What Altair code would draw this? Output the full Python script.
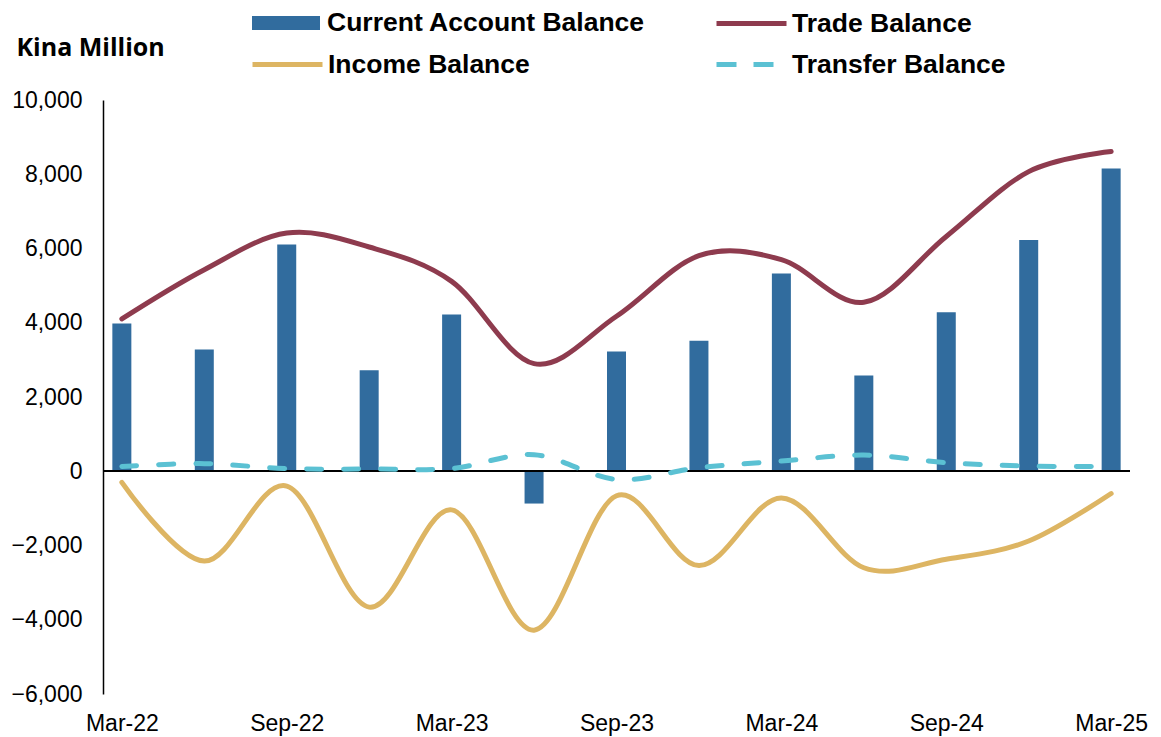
import json
import altair as alt
import pandas as pd

quarters = ["Mar-22", "Jun-22", "Sep-22", "Dec-22", "Mar-23", "Jun-23", "Sep-23",
            "Dec-23", "Mar-24", "Jun-24", "Sep-24", "Dec-24", "Mar-25"]
current_account = [3980, 3280, 6110, 2720, 4220, -870, 3225, 3515, 5325, 2580, 4285, 6230, 8155]
trade_balance = [4105, 5430, 6415, 6040, 5115, 2900, 4175, 5805, 5700, 4550, 6325, 8070, 8610]
income_balance = [-300, -2420, -400, -3660, -1040, -4280, -660, -2540, -720, -2600, -2370, -1880, -600]
transfer_balance = [130, 205, 70, 60, 75, 445, -220, 95, 275, 435, 230, 140, 125]
y_ticks = [-6000, -4000, -2000, 0, 2000, 4000, 6000, 8000, 10000]

BLUE = "#316C9E"
TRADE = "#8E3B4E"
INCOME = "#DDB563"
TRANSFER = "#5BC1D3"
FONT = "Liberation Sans"

df = pd.DataFrame({
    "idx": list(range(len(quarters))),
    "quarter": quarters,
    "current": current_account,
    "trade": trade_balance,
    "income": income_balance,
    "transfer": transfer_balance,
})

shown = quarters[::2]
label_expr = json.dumps(shown) + "[round(datum.value / 2)]"

x_enc = alt.X(
    "idx:Q",
    scale=alt.Scale(domain=[-0.168, 12.168], nice=False, zero=False),
    axis=alt.Axis(values=list(range(0, 13, 2)), labelExpr=label_expr, grid=False,
                  domain=False, ticks=False, labelFont=FONT, labelFontSize=23,
                  labelColor="black", labelPadding=18, title=None),
)
y_scale = alt.Scale(domain=[-6000, 10000], nice=False, zero=False)


def legend(x, y, sym, size, offset, **kw):
    return alt.Legend(title=None, orient="none", legendX=x, legendY=y,
                      symbolType=sym, symbolSize=size, labelFont=FONT,
                      labelFontSize=26.5, labelFontWeight="bold", labelColor="black",
                      labelOffset=offset, labelLimit=500, padding=0, **kw)


bars = alt.Chart(df).mark_bar(size=19).transform_calculate(
    s="'Current Account Balance'"
).encode(
    x=x_enc,
    y=alt.Y("current:Q", scale=y_scale,
            axis=alt.Axis(values=y_ticks, format=",.0f", grid=False, ticks=False,
                          domainColor="black", domainWidth=1.5, labelFont=FONT,
                          labelFontSize=23, labelColor="black", labelPadding=21,
                          title="Kina Million", titleAngle=0, titleAlign="left",
                          titleBaseline="middle", titleX=-87, titleY=-53,
                          titleFont="Open Sans", titleFontSize=25,
                          titleFontWeight="bold", titleColor="black")),
    color=alt.Color("s:N", scale=alt.Scale(domain=["Current Account Balance"], range=[BLUE]),
                    legend=legend(149, -111, "M-1,-0.206H1V0.206H-1Z", 4624, 7,
                                  symbolStrokeWidth=0)),
)

zero = alt.Chart(df).mark_rule(color="black", strokeWidth=1.5).encode(y=alt.datum(0))


def line(field, name, col, lx, ly, dash=None, sym_dash=None):
    mk = dict(interpolate="cardinal", strokeWidth=5, strokeCap="round")
    if dash:
        mk["strokeDash"] = dash
    extra = dict(symbolStrokeWidth=5)
    if sym_dash:
        extra["symbolDash"] = sym_dash
    return alt.Chart(df).mark_line(**mk).transform_calculate(
        s=f"'{name}'"
    ).encode(
        x=x_enc,
        y=alt.Y(f"{field}:Q", scale=y_scale),
        color=alt.Color("s:N", scale=alt.Scale(domain=[name], range=[col]),
                        legend=legend(lx, ly, "stroke", 4900, 3, **extra)),
    )


transfer = line("transfer", "Transfer Balance", TRANSFER, 611, -73, [15, 22], [20, 17])
income = line("income", "Income Balance", INCOME, 147, -73)
trade = line("trade", "Trade Balance", TRADE, 611, -114)

chart = alt.layer(bars, zero, transfer, income, trade).resolve_scale(
    color="independent"
).properties(
    width=1027, height=594,
    autosize=alt.AutoSizeParams(type="none"),
    padding={"left": 95, "top": 92, "right": 20, "bottom": 45},
    background="white",
).configure_view(stroke=None)

chart.save("out.html", embed_options={"renderer": "svg", "actions": False})
